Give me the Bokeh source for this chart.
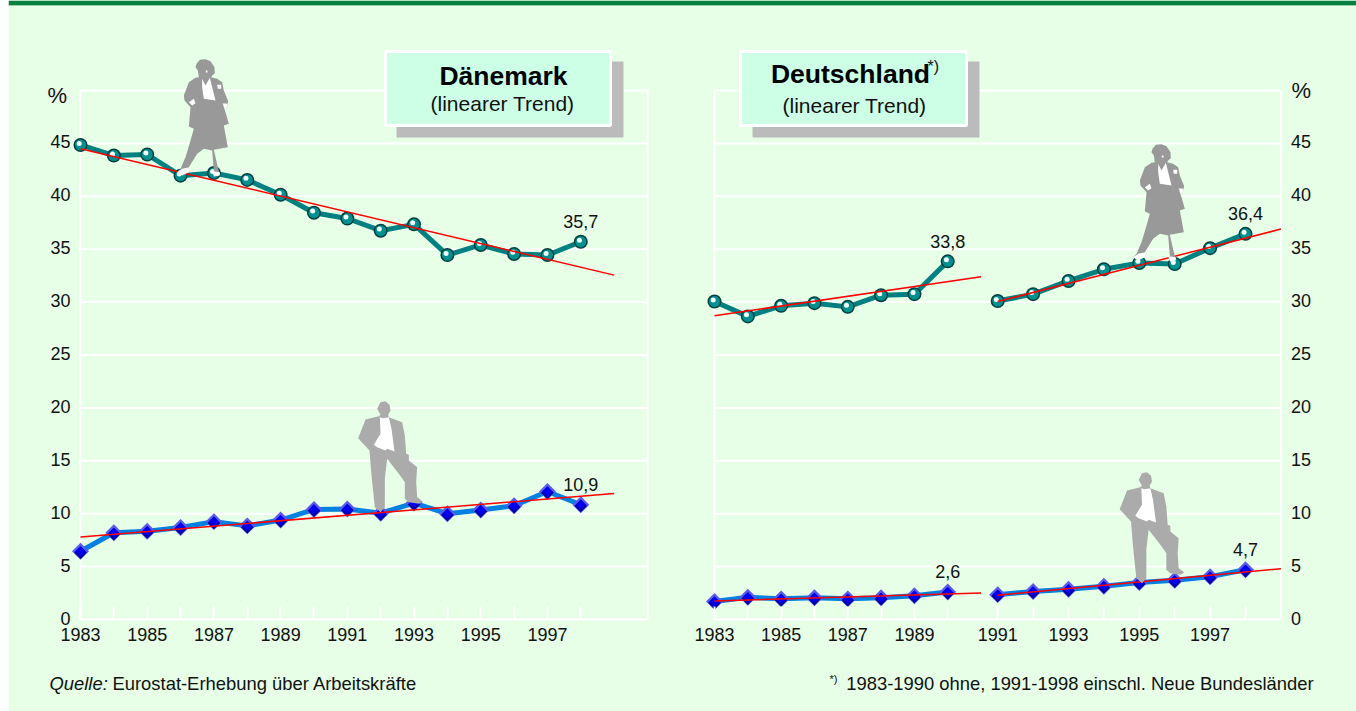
from bokeh.plotting import figure
from bokeh.embed import file_html
from bokeh.resources import INLINE
from bokeh.core.properties import value
from bokeh.models import (BoxAnnotation, FixedTicker, Label, LinearAxis, PolyAnnotation, Range1d)

FONT = "Liberation Sans"
MINT = "#e6ffe6"
INK = "#111111"

# ---------- data ----------
years_all = list(range(1983, 1999))
years_a = list(range(1983, 1991))
years_b = list(range(1991, 1999))

dk_women = [44.85, 43.85, 43.95, 41.95, 42.2, 41.55, 40.15, 38.45, 37.9, 36.75, 37.35, 34.45, 35.4, 34.55, 34.45, 35.7]
dk_men = [6.45, 8.2, 8.35, 8.7, 9.25, 8.85, 9.4, 10.4, 10.45, 10.05, 11.0, 10.0, 10.35, 10.75, 12.1, 10.85]
dk_women_trend = [44.5, 32.55]
dk_men_trend = [7.8, 11.9]

de_women_a = [30.05, 28.65, 29.65, 29.9, 29.55, 30.65, 30.75, 33.85]
de_women_b = [30.1, 30.75, 32.0, 33.1, 33.7, 33.6, 35.1, 36.45]
de_men_a = [1.7, 2.1, 1.95, 2.05, 1.95, 2.05, 2.25, 2.6]
de_men_b = [2.35, 2.65, 2.85, 3.15, 3.5, 3.7, 4.05, 4.7]
de_women_a_trend = [28.7, 32.4]
de_women_b_trend = [30.05, 36.9]
de_men_a_trend = [1.75, 2.5]
de_men_b_trend = [2.3, 4.8]

y_ticks = list(range(0, 50, 5))
grid_ticks = list(range(0, 55, 5))

WOMAN = [(108,40),(118,28),(135,26),(150,32),(162,50),(163,68),(155,75),(152,80),(170,85),(185,95),(190,120),(203,152),(197,175),(190,162),(186,158),(195,185),(205,220),(190,225),(202,290),(160,298),(172,350),(178,372),(165,377),(160,360),(155,300),(130,295),(110,310),(85,350),(85,365),(60,372),(50,365),(60,355),(75,320),(90,270),(100,235),(85,228),(90,170),(72,150),(70,135),(85,95),(105,82),(115,80),(112,60),(105,50)]
WOMAN_WHITE = [
    [(125,85),(135,105),(148,82),(165,150),(130,145),(125,110)],
    [(170,103),(182,103),(182,115),(172,115)],
    [(85,155),(100,145),(105,158),(95,165)],
    [(188,158),(200,160),(198,175),(192,170)],
    [(50,365),(65,355),(87,350),(85,365),(65,375)],
    [(155,362),(178,365),(178,375),(160,378)],
    [(136,60),(141,60),(141,66),(136,66)],
]
MAN = [(95,40),(105,20),(120,17),(132,28),(135,45),(128,58),(130,65),(170,80),(178,120),(182,175),(190,178),(190,195),(215,215),(212,260),(215,305),(232,318),(220,325),(190,320),(178,310),(178,260),(160,235),(125,190),(118,250),(118,335),(105,350),(88,335),(78,240),(72,165),(38,128),(60,72),(100,62),(105,58)]
MAN_WHITE = [
    [(103,65),(112,68),(130,65),(138,100),(147,168),(125,160),(120,165),(95,155),(85,148),(105,115)],
]

# ---------- geometry: one canvas, three x scales ----------
OFF = 8            # page x of the canvas
W, H = 1348, 711
Y0_PX, Y_SCALE = 619.0, 10.58
Y_START, Y_END = -(H - Y0_PX) / Y_SCALE, Y0_PX / Y_SCALE
LABEL_LIFT = 1.5 / Y_SCALE   # the y tick labels sit slightly above their grid lines


def x_range_for(px_at_1983, px_at_end, end_year):
    per = (px_at_end - px_at_1983) / (end_year - 1983)
    start = 1983 - (px_at_1983 - OFF) / per
    return Range1d(start, start + W / per)


p = figure(width=W, height=H, x_range=x_range_for(80, 647, 2000),
           y_range=Range1d(Y_START, Y_END),
           x_axis_type=None, y_axis_type=None, toolbar_location=None, output_backend="svg",
           min_border=0, background_fill_color=MINT, border_fill_color=MINT, outline_line_color=None,
           margin=(0, 0, 0, OFF))
p.extra_x_ranges = {"segA": x_range_for(714, 1280.4, 2000), "segB": x_range_for(714, 1280.4, 1999)}
p.extra_y_ranges = {"ylab": Range1d(Y_START - LABEL_LIFT, Y_END - LABEL_LIFT)}


def panel_frame(x0, x1, rn):
    n = len(grid_ticks)
    p.segment([x0] * n, grid_ticks, [x1] * n, grid_ticks, line_color="white", line_width=2, x_range_name=rn)
    p.segment([x0, x1], [0, 0], [x0, x1], [50, 50], line_color="white", line_width=2, x_range_name=rn)


def x_axis(years, rn):
    ax = LinearAxis(x_range_name=rn, ticker=FixedTicker(ticks=years),
                    major_label_overrides={y: (str(y) if y % 2 else "") for y in years},
                    fixed_location=0, axis_line_color=None, major_tick_in=13, major_tick_out=0,
                    major_tick_line_color="white", major_tick_line_width=2, minor_tick_line_color=None,
                    major_label_standoff=8, major_label_text_font=FONT, major_label_text_font_size="18px",
                    major_label_text_color=INK)
    p.add_layout(ax, "below")


def y_axis(at, side, rn):
    ax = LinearAxis(x_range_name=rn, y_range_name="ylab", ticker=FixedTicker(ticks=y_ticks), fixed_location=at,
                    axis_line_color=None, major_tick_line_color=None, major_tick_in=0, major_tick_out=0,
                    minor_tick_line_color=None, major_label_standoff=10, major_label_text_font=FONT,
                    major_label_text_font_size="18px", major_label_text_color=INK)
    p.add_layout(ax, side)


def women(xs, ys, trend_x, trend_y, rn):
    p.line(xs, ys, line_color="#008080", line_width=5, x_range_name=rn, line_join="round")
    p.scatter(xs, ys, marker="circle", size=14, fill_color="#003f3f", line_color=None, x_range_name=rn)
    p.scatter(xs, ys, marker="circle", size=11, fill_color="#009090", line_color=None, x_range_name=rn)
    p.scatter([x - 0.04 for x in xs], [y + 0.15 for y in ys], marker="circle", size=5,
              fill_color="#f4ffff", line_color=None, x_range_name=rn)
    p.line(trend_x, trend_y, line_color="#ff0000", line_width=1.5, x_range_name=rn)


def men(xs, ys, trend_x, trend_y, rn):
    p.line(xs, ys, line_color="#0080e0", line_width=5, x_range_name=rn, line_join="round")
    p.scatter(xs, ys, marker="square", angle=0.7854, size=12, fill_color="#5a5af0", line_color=None, x_range_name=rn)
    p.scatter(xs, [y - 0.12 for y in ys], marker="square", angle=0.7854, size=9, fill_color="#0000a0", line_color=None, x_range_name=rn)
    p.scatter(xs, ys, marker="square", angle=0.7854, size=7, fill_color="#0000f0", line_color=None, x_range_name=rn)
    p.line(trend_x, trend_y, line_color="#ff0000", line_width=1.5, x_range_name=rn)


def end_label(x, y, txt, dy, rn):
    p.text([x], [y], text=[txt], x_range_name=rn, y_offset=dy, text_align="center",
           text_baseline="middle", text_font=value(FONT), text_font_size="18px", text_color=INK)


def rect(l, r, t, b, color, **kw):
    p.add_layout(BoxAnnotation(left=l - OFF, right=r - OFF, top=t, bottom=b, left_units="canvas", right_units="canvas",
                               top_units="canvas", bottom_units="canvas", fill_color=color, fill_alpha=1,
                               line_color=kw.get("line"), line_width=kw.get("lw", 1), line_alpha=1))


def label(x, y, txt, size, style="normal", align="left", color=INK):
    p.add_layout(Label(x=x - OFF, y=y, text=txt, x_units="canvas", y_units="canvas", text_font=FONT,
                       text_font_size=f"{size}px", text_font_style=style, text_align=align,
                       text_baseline="middle", text_color=color))


def shape(ox, oy, outline, whites, color):
    def add(pts, col):
        p.add_layout(PolyAnnotation(xs=[ox - OFF + a / 3 for a, _ in pts], ys=[oy + b / 3 for _, b in pts],
                                    xs_units="canvas", ys_units="canvas", fill_color=col, fill_alpha=1,
                                    line_color=None))
    add(outline, color)
    for w in whites:
        add(w, "white")


# ---------- left panel ----------
panel_frame(1983, 2000, "default")
x_axis(years_all, "default")
y_axis(1983, "left", "default")
women(years_all, dk_women, [1983, 1999], dk_women_trend, "default")
men(years_all, dk_men, [1983, 1999], dk_men_trend, "default")
end_label(years_all[-1], dk_women[-1], "35,7", -20, "default")
end_label(years_all[-1], dk_men[-1], "10,9", -20, "default")

# ---------- right panel ----------
panel_frame(1983, 2000, "segA")
x_axis(years_a, "segA")
x_axis(years_b, "segB")
y_axis(2000, "right", "segA")
women(years_a, de_women_a, [1983, 1991], de_women_a_trend, "segA")
women(years_b, de_women_b, [1991, 1999], de_women_b_trend, "segB")
men(years_a, de_men_a, [1983, 1991], de_men_a_trend, "segA")
men(years_b, de_men_b, [1991, 1999], de_men_b_trend, "segB")
end_label(years_a[-1], de_women_a[-1], "33,8", -20, "segA")
end_label(years_b[-1], de_women_b[-1], "36,4", -20, "segB")
end_label(years_a[-1], de_men_a[-1], "2,6", -20, "segA")
end_label(years_b[-1], de_men_b[-1], "4,7", -20, "segB")

# ---------- decoration ----------
rect(8, 1356, 0, 4.5, "#07803f")
rect(8, 1356, 4.5, 5.5, "#90d0a8")

rect(396, 623, 61, 137, "#bbbbbb")
rect(385, 610, 51, 125, "#ccffe6", line="white", lw=3)
label(503, 75, "Dänemark", 26.5, "bold", "center", "black")
label(502, 103, "(linearer Trend)", 21, "normal", "center")
label(47, 95, "%", 22)
label(49, 683, "Quelle:", 18.4, "italic")
label(112, 683, "Eurostat-Erhebung über Arbeitskräfte", 18.4)
shape(160, 50, WOMAN, WOMAN_WHITE, "#999999")
shape(345, 395, MAN, MAN_WHITE, "#ababab")

rect(752, 979, 61, 137, "#bbbbbb")
rect(740, 966, 51, 125, "#ccffe6", line="white", lw=3)
label(850, 73, "Deutschland", 26.5, "bold", "center", "black")
label(927, 66, "*)", 16)
label(854, 105, "(linearer Trend)", 21, "normal", "center")
label(1291, 90, "%", 22)
label(1313, 683, "1983-1990 ohne, 1991-1998 einschl. Neue Bundesländer", 18.4, "normal", "right")
label(829, 678, "*)", 11)
shape(1116, 135, WOMAN, WOMAN_WHITE, "#999999")
shape(1106.5, 466, MAN, MAN_WHITE, "#ababab")

open("out.html", "w").write(file_html(p, INLINE))
